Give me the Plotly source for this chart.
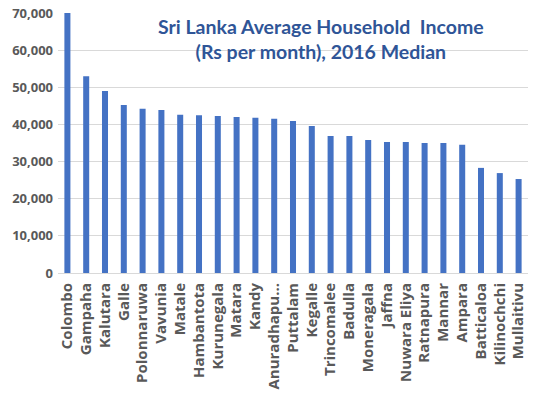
import plotly.graph_objects as go

districts = ["Colombo", "Gampaha", "Kalutara", "Galle", "Polonnaruwa", "Vavunia", "Matale",
             "Hambantota", "Kurunegala", "Matara", "Kandy", "Anuradhapu...", "Puttalam", "Kegalle",
             "Trincomalee", "Badulla", "Moneragala", "Jaffna", "Nuwara Eliya", "Ratnapura",
             "Mannar", "Ampara", "Batticaloa", "Kilinochchi", "Mullaitivu"]
income = [70000, 53000, 49000, 45200, 44200, 43900, 42600, 42500, 42300, 42000, 41800,
          41500, 40900, 39600, 36900, 36900, 35800, 35300, 35300, 35000, 35000, 34500,
          28300, 26900, 25300]
y_ticks = [0, 10000, 20000, 30000, 40000, 50000, 60000, 70000]
y_tick_labels = ["0", "10,000", "20,000", "30,000", "40,000", "50,000", "60,000", "70,000"]

fig = go.Figure(go.Bar(x=districts, y=income, marker_color="#4472C4", marker_line_width=0))

fig.update_layout(
    width=540, height=398,
    margin=dict(l=58, r=12, t=13, b=125),
    paper_bgcolor="white", plot_bgcolor="white",
    bargap=0.68,
    showlegend=False,
    font=dict(family="Open Sans, Liberation Sans, sans-serif", color="#595959"),
)
fig.update_yaxes(range=[0, 70000], tickvals=y_ticks, ticktext=y_tick_labels,
                 showgrid=True, gridcolor="#D9D9D9", gridwidth=1, zeroline=False,
                 showline=False, ticks="", automargin=False, ticklabelstandoff=4,
                 tickfont=dict(size=13, color="#595959", weight="bold"))
fig.update_xaxes(tickangle=-90, showline=True, linecolor="#D9D9D9", linewidth=1, ticks="",
                 automargin=False, ticklabelstandoff=3,
                 tickfont=dict(size=15, color="#595959", weight="bold"))

fig.add_annotation(xref="paper", yref="paper", x=0.56, y=1.0, xanchor="center", yanchor="top",
                   text="Sri Lanka Average Household  Income<br>(Rs per month), 2016 Median",
                   showarrow=False, align="center",
                   font=dict(size=19.5, color="#2F5597", weight="bold",
                             family="Lato, Liberation Sans, sans-serif"))

fig.write_html("out.html", config={"displayModeBar": False},
               post_script="document.body.style.margin='0px';")
